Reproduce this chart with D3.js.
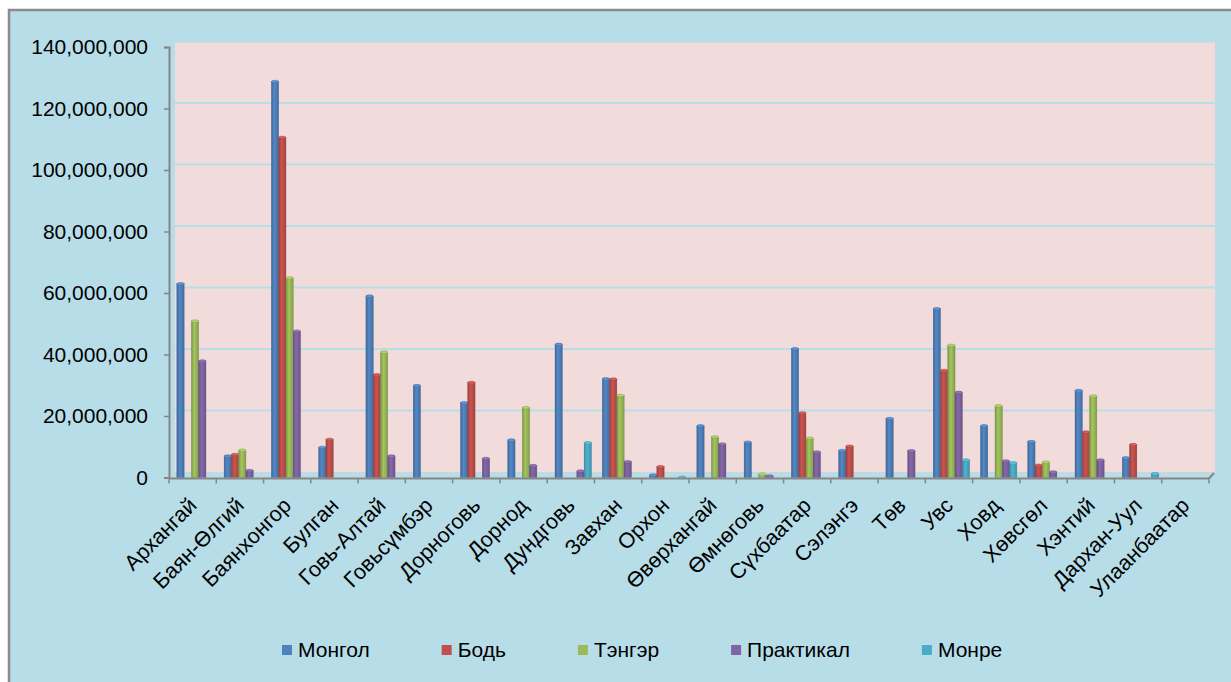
<!DOCTYPE html>
<html>
<head>
<meta charset="utf-8">
<script src="https://cdn.jsdelivr.net/npm/d3@7/dist/d3.min.js"></script>
<style>
  html, body { margin: 0; padding: 0; background: #ffffff; }
  svg { display: block; font-family: "Liberation Sans", Arial, sans-serif; }
</style>
</head>
<body>
<div id="chart-area"></div>
<script>
// aimags
let categories = ["Архангай", "Баян-Өлгий", "Баянхонгор", "Булган", "Говь-Алтай", "Говьсүмбэр",
  "Дорноговь", "Дорнод", "Дундговь", "Завхан", "Орхон", "Өвөрхангай", "Өмнөговь", "Сүхбаатар",
  "Сэлэнгэ", "Төв", "Увс", "Ховд", "Хөвсгөл", "Хэнтий", "Дархан-Уул", "Улаанбаатар"];

let seriesNames = ["Монгол", "Бодь", "Тэнгэр", "Практикал", "Монре"];

let mongol = [63400000, 7400000, 129200000, 10200000, 59400000, 30300000, 24700000, 12600000, 43700000,
  32500000, 1200000, 17200000, 11900000, 42300000, 9200000, 19600000, 55300000, 17200000, 12100000,
  28700000, 6800000, 0];
let bodi = [0, 7900000, 111000000, 12800000, 33800000, 0, 31300000, 0, 0, 32400000, 3900000, 0, 0,
  21400000, 10600000, 0, 35200000, 0, 4400000, 15200000, 11100000, 0];
let tenger = [51300000, 9300000, 65300000, 0, 41200000, 0, 0, 23100000, 0, 27100000, 0, 13600000,
  1500000, 13200000, 0, 0, 43400000, 23700000, 5400000, 26900000, 0, 0];
let praktikal = [38300000, 2700000, 48000000, 0, 7400000, 0, 6600000, 4300000, 2500000, 5500000, 0,
  11300000, 900000, 8700000, 0, 9100000, 28100000, 5800000, 2200000, 6100000, 0, 0];
let monre = [0, 0, 0, 0, 0, 0, 0, 0, 11700000, 0, 500000, 0, 0, 0, 0, 0, 6100000, 5200000, 0, 0,
  1700000, 0];

let yTicks = [0, 20000000, 40000000, 60000000, 80000000, 100000000, 120000000, 140000000];

let colors = ["#4f81bd", "#c0504d", "#9bbb59", "#8064a2", "#4bacc6"];

let seriesValues = [mongol, bodi, tenger, praktikal, monre];

let width = 1231, height = 682;
// front plane of the 3D plot, back wall is shifted by depth
let plot = { left: 169, right: 1209, top: 47, bottom: 477.5 };
let depth = { dx: 5, dy: -5.5 };

let svg = d3.select("#chart-area")
  .append("svg")
  .attr("width", width)
  .attr("height", height);

// chart background + border
svg.append("rect")
  .attr("x", 9).attr("y", 10)
  .attr("width", width).attr("height", height)
  .attr("fill", "#b7dde8")
  .attr("stroke", "#8c8c8c")
  .attr("stroke-width", 2.5);

let xScale = d3.scaleBand()
  .domain(categories)
  .range([plot.left, plot.right])
  .padding(0);

let xInner = d3.scaleBand()
  .domain(seriesNames)
  .range([0, xScale.bandwidth()])
  .paddingInner(0)
  .paddingOuter(0.75)
  .align(0.72);

let yScale = d3.scaleLinear()
  .domain([0, 140000000])
  .range([plot.bottom, plot.top]);

// back wall
svg.append("rect")
  .attr("x", plot.left + depth.dx + 1)
  .attr("y", plot.top + depth.dy)
  .attr("width", plot.right - plot.left)
  .attr("height", plot.bottom - plot.top)
  .attr("fill", "#f2dcdb");

// gridlines on back wall
svg.append("g")
  .selectAll("line")
  .data(yTicks.slice(1))
  .enter()
  .append("line")
  .attr("x1", plot.left + depth.dx + 1)
  .attr("x2", plot.right + depth.dx + 0.5)
  .attr("y1", d => yScale(d) + depth.dy)
  .attr("y2", d => yScale(d) + depth.dy)
  .attr("stroke", "#b7dde8")
  .attr("stroke-width", 2);

// floor
svg.append("polygon")
  .attr("points", [
    [plot.left, plot.bottom],
    [plot.right, plot.bottom],
    [plot.right + depth.dx, plot.bottom + depth.dy],
    [plot.left + depth.dx, plot.bottom + depth.dy]
  ].map(p => p.join(",")).join(" "))
  .attr("fill", "#bcdce4");

// gradients for cylinders
let defs = svg.append("defs");
colors.forEach((c, i) => {
  let base = d3.color(c);
  let grad = defs.append("linearGradient")
    .attr("id", "grad" + i)
    .attr("x1", "0").attr("x2", "1").attr("y1", "0").attr("y2", "0");
  grad.append("stop").attr("offset", "0%").attr("stop-color", base.darker(0.6));
  grad.append("stop").attr("offset", "40%").attr("stop-color", base.brighter(0.15));
  grad.append("stop").attr("offset", "100%").attr("stop-color", base.darker(0.45));
});

// bars
let barW = xInner.bandwidth();
seriesValues.forEach((values, s) => {
  let data = values
    .map((v, i) => ({ cat: categories[i], value: v }))
    .filter(d => d.value > 0);

  let g = svg.append("g").attr("class", "series");

  g.selectAll("rect")
    .data(data)
    .enter()
    .append("rect")
    .attr("x", d => xScale(d.cat) + xInner(seriesNames[s]))
    .attr("y", d => yScale(d.value) + 1.2)
    .attr("width", barW)
    .attr("height", d => plot.bottom - yScale(d.value) - 1.2)
    .attr("fill", "url(#grad" + s + ")")
    .attr("stroke", d3.color(colors[s]).darker(0.9))
    .attr("stroke-width", 0.4);

  // cylinder top
  g.selectAll("ellipse")
    .data(data)
    .enter()
    .append("ellipse")
    .attr("cx", d => xScale(d.cat) + xInner(seriesNames[s]) + barW / 2)
    .attr("cy", d => yScale(d.value) + 1.4)
    .attr("rx", barW / 2)
    .attr("ry", 1.4)
    .attr("fill", d3.color(colors[s]).brighter(0.4))
    .attr("stroke", d3.color(colors[s]).darker(0.6))
    .attr("stroke-width", 0.5);
});

// y axis
let yAxis = svg.append("g")
  .attr("transform", "translate(" + plot.left + ",0)")
  .call(d3.axisLeft(yScale).tickValues(yTicks).tickFormat(d3.format(",")).tickSize(5).tickPadding(16));

yAxis.select(".domain").attr("stroke", "#868686").attr("stroke-width", 2);
yAxis.selectAll(".tick line").attr("stroke", "#868686").attr("stroke-width", 1.5);
yAxis.selectAll(".tick text")
  .attr("font-size", "21px")
  .attr("font-family", "Liberation Sans, Arial, sans-serif")
  .attr("fill", "#000");

// x axis
let boundaries = categories.map(c => xScale(c)).concat([plot.right]);
let xAxis = svg.append("g");

xAxis.append("line")
  .attr("x1", plot.left).attr("x2", plot.right)
  .attr("y1", plot.bottom + 1).attr("y2", plot.bottom + 1)
  .attr("stroke", "#868686").attr("stroke-width", 2);

xAxis.append("line")
  .attr("x1", plot.right).attr("x2", plot.right + depth.dx)
  .attr("y1", plot.bottom + 1).attr("y2", plot.bottom + 1 + depth.dy)
  .attr("stroke", "#868686").attr("stroke-width", 2);

xAxis.selectAll(".xtick")
  .data(boundaries)
  .enter()
  .append("line")
  .attr("class", "xtick")
  .attr("x1", d => d).attr("x2", d => d)
  .attr("y1", plot.bottom + 1).attr("y2", plot.bottom + 6)
  .attr("stroke", "#868686").attr("stroke-width", 1.5);

xAxis.selectAll(".xlabel")
  .data(categories)
  .enter()
  .append("text")
  .attr("class", "xlabel")
  .attr("transform", d => "translate(" + (xScale(d) + xScale.bandwidth() / 2) + "," + (plot.bottom + 24) + ") rotate(-45)")
  .attr("text-anchor", "end")
  .attr("dy", "0.35em")
  .attr("font-size", "21.5px")
  .attr("fill", "#000")
  .text(d => d);

// legend
let legend = svg.append("g").attr("class", "legend");
let lx = 282;
seriesNames.forEach((name, i) => {
  let item = legend.append("g").attr("transform", "translate(" + lx + ",645)");
  item.append("rect")
    .attr("width", 10).attr("height", 10)
    .attr("fill", colors[i]);
  let t = item.append("text")
    .attr("x", 16)
    .attr("y", 5)
    .attr("dy", "0.35em")
    .attr("font-size", "21px")
    .attr("fill", "#000")
    .text(name);
  lx += 16 + t.node().getComputedTextLength() + 72;
});
</script>
</body>
</html>
